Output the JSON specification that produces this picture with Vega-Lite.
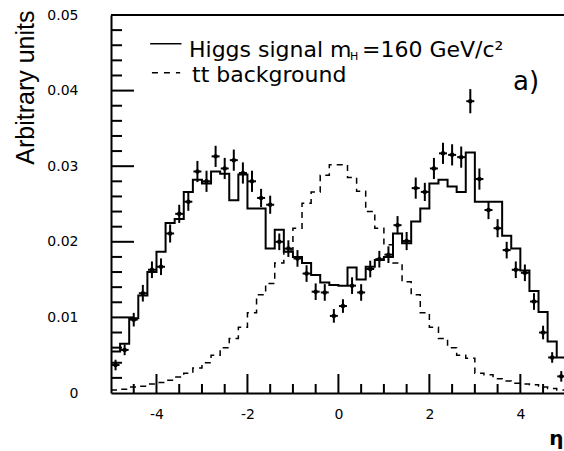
{
  "$schema": "https://vega.github.io/schema/vega-lite/v6.json",
  "width": 453,
  "height": 378,
  "autosize": {"type": "none"},
  "padding": {"left": 111, "top": 15, "right": 0, "bottom": 58},
  "background": "white",
  "config": {
    "view": {"stroke": null},
    "axis": {"grid": false, "domainColor": "#000", "labelColor": "#000", "titleColor": "#000", "labelFont": "DejaVu Sans", "labelFontSize": 14, "domainWidth": 2, "labelFlush": false, "labelOverlap": false, "labelBound": false}
  },
  "datasets": {
    "hist": [
      {"lo": -5.0, "sig": 0.0055, "bkg": 0.0004},
      {"lo": -4.8, "sig": 0.0065, "bkg": 0.0005},
      {"lo": -4.6, "sig": 0.0099, "bkg": 0.0008},
      {"lo": -4.4, "sig": 0.0129, "bkg": 0.0009},
      {"lo": -4.2, "sig": 0.0160, "bkg": 0.0012},
      {"lo": -4.0, "sig": 0.0187, "bkg": 0.0014},
      {"lo": -3.8, "sig": 0.0225, "bkg": 0.0017},
      {"lo": -3.6, "sig": 0.0230, "bkg": 0.0021},
      {"lo": -3.4, "sig": 0.0266, "bkg": 0.0026},
      {"lo": -3.2, "sig": 0.0282, "bkg": 0.0033},
      {"lo": -3.0, "sig": 0.0277, "bkg": 0.0040},
      {"lo": -2.8, "sig": 0.0293, "bkg": 0.0050},
      {"lo": -2.6, "sig": 0.0290, "bkg": 0.0060},
      {"lo": -2.4, "sig": 0.0255, "bkg": 0.0072},
      {"lo": -2.2, "sig": 0.0289, "bkg": 0.0087},
      {"lo": -2.0, "sig": 0.0244, "bkg": 0.0106},
      {"lo": -1.8, "sig": 0.0244, "bkg": 0.0130},
      {"lo": -1.6, "sig": 0.0191, "bkg": 0.0145},
      {"lo": -1.4, "sig": 0.0216, "bkg": 0.0172},
      {"lo": -1.2, "sig": 0.0187, "bkg": 0.0189},
      {"lo": -1.0, "sig": 0.0180, "bkg": 0.0218},
      {"lo": -0.8, "sig": 0.0172, "bkg": 0.0251},
      {"lo": -0.6, "sig": 0.0156, "bkg": 0.0266},
      {"lo": -0.4, "sig": 0.0146, "bkg": 0.0288},
      {"lo": -0.2, "sig": 0.0143, "bkg": 0.0302},
      {"lo": 0.0, "sig": 0.0142, "bkg": 0.0302},
      {"lo": 0.2, "sig": 0.0166, "bkg": 0.0285},
      {"lo": 0.4, "sig": 0.0150, "bkg": 0.0267},
      {"lo": 0.6, "sig": 0.0167, "bkg": 0.0240},
      {"lo": 0.8, "sig": 0.0176, "bkg": 0.0218},
      {"lo": 1.0, "sig": 0.0180, "bkg": 0.0196},
      {"lo": 1.2, "sig": 0.0211, "bkg": 0.0172},
      {"lo": 1.4, "sig": 0.0198, "bkg": 0.0147},
      {"lo": 1.6, "sig": 0.0227, "bkg": 0.0130},
      {"lo": 1.8, "sig": 0.0244, "bkg": 0.0106},
      {"lo": 2.0, "sig": 0.0277, "bkg": 0.0087},
      {"lo": 2.2, "sig": 0.0282, "bkg": 0.0072},
      {"lo": 2.4, "sig": 0.0273, "bkg": 0.0060},
      {"lo": 2.6, "sig": 0.0266, "bkg": 0.0050},
      {"lo": 2.8, "sig": 0.0318, "bkg": 0.0046},
      {"lo": 3.0, "sig": 0.0253, "bkg": 0.0026},
      {"lo": 3.2, "sig": 0.0253, "bkg": 0.0024},
      {"lo": 3.4, "sig": 0.0253, "bkg": 0.0019},
      {"lo": 3.6, "sig": 0.0208, "bkg": 0.0016},
      {"lo": 3.8, "sig": 0.0191, "bkg": 0.0013},
      {"lo": 4.0, "sig": 0.0162, "bkg": 0.0012},
      {"lo": 4.2, "sig": 0.0135, "bkg": 0.0011},
      {"lo": 4.4, "sig": 0.0107, "bkg": 0.0008},
      {"lo": 4.6, "sig": 0.0068, "bkg": 0.0006},
      {"lo": 4.8, "sig": 0.0047, "bkg": 0.0004},
      {"lo": 5.0, "sig": 0.0047, "bkg": 0.0004}
    ],
    "pts": [
      {"eta": -4.9, "val": 0.0037, "lo": 0.0030, "hi": 0.0044},
      {"eta": -4.7, "val": 0.0057, "lo": 0.0050, "hi": 0.0064},
      {"eta": -4.5, "val": 0.0097, "lo": 0.0088, "hi": 0.0106},
      {"eta": -4.3, "val": 0.0132, "lo": 0.0121, "hi": 0.0143},
      {"eta": -4.1, "val": 0.0163, "lo": 0.0152, "hi": 0.0174},
      {"eta": -3.9, "val": 0.0167, "lo": 0.0156, "hi": 0.0178},
      {"eta": -3.7, "val": 0.0211, "lo": 0.0199, "hi": 0.0223},
      {"eta": -3.5, "val": 0.0237, "lo": 0.0225, "hi": 0.0249},
      {"eta": -3.3, "val": 0.0253, "lo": 0.0241, "hi": 0.0265},
      {"eta": -3.1, "val": 0.0293, "lo": 0.0279, "hi": 0.0307},
      {"eta": -2.9, "val": 0.0280, "lo": 0.0266, "hi": 0.0294},
      {"eta": -2.7, "val": 0.0313, "lo": 0.0299, "hi": 0.0327},
      {"eta": -2.5, "val": 0.0297, "lo": 0.0283, "hi": 0.0311},
      {"eta": -2.3, "val": 0.0308, "lo": 0.0294, "hi": 0.0322},
      {"eta": -2.1, "val": 0.0291, "lo": 0.0277, "hi": 0.0305},
      {"eta": -1.9, "val": 0.0280, "lo": 0.0266, "hi": 0.0294},
      {"eta": -1.7, "val": 0.0258, "lo": 0.0246, "hi": 0.0270},
      {"eta": -1.5, "val": 0.0249, "lo": 0.0237, "hi": 0.0261},
      {"eta": -1.3, "val": 0.0200, "lo": 0.0189, "hi": 0.0211},
      {"eta": -1.1, "val": 0.0191, "lo": 0.0180, "hi": 0.0202},
      {"eta": -0.9, "val": 0.0178, "lo": 0.0167, "hi": 0.0189},
      {"eta": -0.7, "val": 0.0158, "lo": 0.0147, "hi": 0.0169},
      {"eta": -0.5, "val": 0.0134, "lo": 0.0123, "hi": 0.0145},
      {"eta": -0.3, "val": 0.0133, "lo": 0.0122, "hi": 0.0144},
      {"eta": -0.1, "val": 0.0102, "lo": 0.0093, "hi": 0.0111},
      {"eta": 0.1, "val": 0.0115, "lo": 0.0106, "hi": 0.0124},
      {"eta": 0.3, "val": 0.0142, "lo": 0.0131, "hi": 0.0153},
      {"eta": 0.5, "val": 0.0133, "lo": 0.0122, "hi": 0.0144},
      {"eta": 0.7, "val": 0.0164, "lo": 0.0153, "hi": 0.0175},
      {"eta": 0.9, "val": 0.0177, "lo": 0.0166, "hi": 0.0188},
      {"eta": 1.1, "val": 0.0183, "lo": 0.0172, "hi": 0.0194},
      {"eta": 1.3, "val": 0.0222, "lo": 0.0210, "hi": 0.0234},
      {"eta": 1.5, "val": 0.0201, "lo": 0.0189, "hi": 0.0213},
      {"eta": 1.7, "val": 0.0271, "lo": 0.0257, "hi": 0.0285},
      {"eta": 1.9, "val": 0.0266, "lo": 0.0254, "hi": 0.0278},
      {"eta": 2.1, "val": 0.0297, "lo": 0.0283, "hi": 0.0311},
      {"eta": 2.3, "val": 0.0317, "lo": 0.0303, "hi": 0.0331},
      {"eta": 2.5, "val": 0.0315, "lo": 0.0301, "hi": 0.0329},
      {"eta": 2.7, "val": 0.0312, "lo": 0.0298, "hi": 0.0326},
      {"eta": 2.9, "val": 0.0386, "lo": 0.0370, "hi": 0.0402},
      {"eta": 3.1, "val": 0.0283, "lo": 0.0269, "hi": 0.0297},
      {"eta": 3.3, "val": 0.0242, "lo": 0.0230, "hi": 0.0254},
      {"eta": 3.5, "val": 0.0218, "lo": 0.0206, "hi": 0.0230},
      {"eta": 3.7, "val": 0.0189, "lo": 0.0178, "hi": 0.0200},
      {"eta": 3.9, "val": 0.0163, "lo": 0.0152, "hi": 0.0174},
      {"eta": 4.1, "val": 0.0159, "lo": 0.0148, "hi": 0.0170},
      {"eta": 4.3, "val": 0.0121, "lo": 0.0110, "hi": 0.0132},
      {"eta": 4.5, "val": 0.0080, "lo": 0.0071, "hi": 0.0089},
      {"eta": 4.7, "val": 0.0047, "lo": 0.0040, "hi": 0.0054},
      {"eta": 4.9, "val": 0.0022, "lo": 0.0015, "hi": 0.0029}
    ],
    "xticks": [
      {"v": -4.5, "a": 0, "b": 0.00119}, {"v": -4, "a": 0, "b": 0.00251}, {"v": -3.5, "a": 0, "b": 0.00119},
      {"v": -3, "a": 0, "b": 0.00119}, {"v": -2.5, "a": 0, "b": 0.00119}, {"v": -2, "a": 0, "b": 0.00251},
      {"v": -1.5, "a": 0, "b": 0.00119}, {"v": -1, "a": 0, "b": 0.00119}, {"v": -0.5, "a": 0, "b": 0.00119},
      {"v": 0, "a": 0, "b": 0.00251}, {"v": 0.5, "a": 0, "b": 0.00119}, {"v": 1, "a": 0, "b": 0.00119},
      {"v": 1.5, "a": 0, "b": 0.00119}, {"v": 2, "a": 0, "b": 0.00251}, {"v": 2.5, "a": 0, "b": 0.00119},
      {"v": 3, "a": 0, "b": 0.00119}, {"v": 3.5, "a": 0, "b": 0.00119}, {"v": 4, "a": 0, "b": 0.00251},
      {"v": 4.5, "a": 0, "b": 0.00119}
    ],
    "yticks": [
      {"v": 0.002, "a": -5, "b": -4.758}, {"v": 0.004, "a": -5, "b": -4.758}, {"v": 0.006, "a": -5, "b": -4.758}, {"v": 0.008, "a": -5, "b": -4.758},
      {"v": 0.01, "a": -5, "b": -4.494},
      {"v": 0.012, "a": -5, "b": -4.758}, {"v": 0.014, "a": -5, "b": -4.758}, {"v": 0.016, "a": -5, "b": -4.758}, {"v": 0.018, "a": -5, "b": -4.758},
      {"v": 0.02, "a": -5, "b": -4.494},
      {"v": 0.022, "a": -5, "b": -4.758}, {"v": 0.024, "a": -5, "b": -4.758}, {"v": 0.026, "a": -5, "b": -4.758}, {"v": 0.028, "a": -5, "b": -4.758},
      {"v": 0.03, "a": -5, "b": -4.494},
      {"v": 0.032, "a": -5, "b": -4.758}, {"v": 0.034, "a": -5, "b": -4.758}, {"v": 0.036, "a": -5, "b": -4.758}, {"v": 0.038, "a": -5, "b": -4.758},
      {"v": 0.04, "a": -5, "b": -4.494},
      {"v": 0.042, "a": -5, "b": -4.758}, {"v": 0.044, "a": -5, "b": -4.758}, {"v": 0.046, "a": -5, "b": -4.758}, {"v": 0.048, "a": -5, "b": -4.758}
    ]
  },
  "layer": [
    {
      "data": {"name": "hist"},
      "mark": {"type": "line", "interpolate": "step-after", "strokeDash": [6, 5], "strokeWidth": 1.5, "color": "#000", "clip": true},
      "encoding": {
        "x": {"field": "lo", "type": "quantitative", "scale": {"domain": [-5, 4.96], "nice": false, "zero": false},
          "axis": {"orient": "bottom", "values": [-4, -2, 0, 2, 4], "ticks": false, "grid": false,
            "labelExpr": "'' + datum.value", "labelPadding": 14, "labelOverlap": false, "domain": true,
            "title": "η", "titleFont": "DejaVu Sans", "titleFontSize": 20, "titleFontWeight": "bold", "titleX": 452, "titleY": 51, "titleAlign": "right", "titleBaseline": "alphabetic"}},
        "y": {"field": "bkg", "type": "quantitative", "scale": {"domain": [0, 0.05], "nice": false, "zero": false},
          "axis": {"orient": "left", "values": [0, 0.01, 0.02, 0.03, 0.04, 0.05], "ticks": false, "grid": false,
            "labelExpr": "'' + datum.value", "labelPadding": 33, "labelOverlap": false, "domain": true,
            "title": "Arbitrary units", "titleFont": "Liberation Sans", "titleFontSize": 25, "titleFontWeight": "normal", "titleX": -78, "titleY": -5, "titleAngle": -90, "titleAlign": "right", "titleBaseline": "alphabetic"}}
      }
    },
    {
      "data": {"name": "hist"},
      "mark": {"type": "line", "interpolate": "step-after", "strokeWidth": 2, "color": "#000", "clip": true},
      "encoding": {
        "x": {"field": "lo", "type": "quantitative", "scale": {"domain": [-5, 4.96], "nice": false, "zero": false}},
        "y": {"field": "sig", "type": "quantitative", "scale": {"domain": [0, 0.05], "nice": false, "zero": false}}
      }
    },
    {
      "data": {"values": [{"x": -5, "x2": 4.96, "y": 0.05}]},
      "mark": {"type": "rule", "strokeWidth": 2, "color": "#000"},
      "encoding": {
        "x": {"field": "x", "type": "quantitative", "scale": {"domain": [-5, 4.96], "nice": false, "zero": false}},
        "x2": {"field": "x2"},
        "y": {"field": "y", "type": "quantitative", "scale": {"domain": [0, 0.05], "nice": false, "zero": false}}
      }
    },
    {
      "data": {"name": "xticks"},
      "mark": {"type": "rule", "strokeWidth": 2, "color": "#000"},
      "encoding": {
        "x": {"field": "v", "type": "quantitative", "scale": {"domain": [-5, 4.96], "nice": false, "zero": false}},
        "y": {"field": "a", "type": "quantitative", "scale": {"domain": [0, 0.05], "nice": false, "zero": false}},
        "y2": {"field": "b"}
      }
    },
    {
      "data": {"name": "yticks"},
      "mark": {"type": "rule", "strokeWidth": 2, "color": "#000"},
      "encoding": {
        "x": {"field": "a", "type": "quantitative", "scale": {"domain": [-5, 4.96], "nice": false, "zero": false}},
        "x2": {"field": "b"},
        "y": {"field": "v", "type": "quantitative", "scale": {"domain": [0, 0.05], "nice": false, "zero": false}}
      }
    },
    {
      "data": {"name": "pts"},
      "mark": {"type": "rule", "strokeWidth": 2, "color": "#000"},
      "encoding": {
        "x": {"field": "eta", "type": "quantitative", "scale": {"domain": [-5, 4.96], "nice": false, "zero": false}},
        "y": {"field": "lo", "type": "quantitative", "scale": {"domain": [0, 0.05], "nice": false, "zero": false}},
        "y2": {"field": "hi"}
      }
    },
    {
      "data": {"name": "pts"},
      "mark": {"type": "tick", "orient": "horizontal", "size": 8, "thickness": 2, "color": "#000", "opacity": 1},
      "encoding": {
        "x": {"field": "eta", "type": "quantitative", "scale": {"domain": [-5, 4.96], "nice": false, "zero": false}},
        "y": {"field": "val", "type": "quantitative", "scale": {"domain": [0, 0.05], "nice": false, "zero": false}}
      }
    },
    {
      "data": {"name": "pts"},
      "mark": {"type": "point", "shape": "circle", "filled": true, "size": 20, "color": "#000", "opacity": 1},
      "encoding": {
        "x": {"field": "eta", "type": "quantitative", "scale": {"domain": [-5, 4.96], "nice": false, "zero": false}},
        "y": {"field": "val", "type": "quantitative", "scale": {"domain": [0, 0.05], "nice": false, "zero": false}}
      }
    },
    {
      "data": {"values": [{"x": -4.14, "x2": -3.45, "y": 0.0462}]},
      "mark": {"type": "rule", "strokeWidth": 1.5, "color": "#000"},
      "encoding": {
        "x": {"field": "x", "type": "quantitative", "scale": {"domain": [-5, 4.96], "nice": false, "zero": false}},
        "x2": {"field": "x2"},
        "y": {"field": "y", "type": "quantitative", "scale": {"domain": [0, 0.05], "nice": false, "zero": false}}
      }
    },
    {
      "data": {"values": [{"x": -4.10, "x2": -3.48, "y": 0.04237}]},
      "mark": {"type": "rule", "strokeWidth": 1.5, "strokeDash": [6, 6], "color": "#000"},
      "encoding": {
        "x": {"field": "x", "type": "quantitative", "scale": {"domain": [-5, 4.96], "nice": false, "zero": false}},
        "x2": {"field": "x2"},
        "y": {"field": "y", "type": "quantitative", "scale": {"domain": [0, 0.05], "nice": false, "zero": false}}
      }
    },
    {
      "data": {"values": [
        {"x": -3.285, "y": 0.04451, "t": "Higgs signal m"},
        {"x": 0.52, "y": 0.04451, "t": "=160 GeV/c²"},
        {"x": -3.219, "y": 0.04118, "t": "tt background"}
      ]},
      "mark": {"type": "text", "font": "DejaVu Sans", "fontSize": 22, "align": "left", "baseline": "alphabetic", "color": "#000"},
      "encoding": {
        "x": {"field": "x", "type": "quantitative", "scale": {"domain": [-5, 4.96], "nice": false, "zero": false}},
        "y": {"field": "y", "type": "quantitative", "scale": {"domain": [0, 0.05], "nice": false, "zero": false}},
        "text": {"field": "t"}
      }
    },
    {
      "data": {"values": [{"x": 0.255, "y": 0.04405, "t": "H"}]},
      "mark": {"type": "text", "font": "DejaVu Sans", "fontSize": 11, "align": "left", "baseline": "alphabetic", "color": "#000"},
      "encoding": {
        "x": {"field": "x", "type": "quantitative", "scale": {"domain": [-5, 4.96], "nice": false, "zero": false}},
        "y": {"field": "y", "type": "quantitative", "scale": {"domain": [0, 0.05], "nice": false, "zero": false}},
        "text": {"field": "t"}
      }
    },
    {
      "data": {"values": [{"x": 3.839, "y": 0.04008, "t": "a)"}]},
      "mark": {"type": "text", "font": "DejaVu Sans", "fontSize": 26, "align": "left", "baseline": "alphabetic", "color": "#000"},
      "encoding": {
        "x": {"field": "x", "type": "quantitative", "scale": {"domain": [-5, 4.96], "nice": false, "zero": false}},
        "y": {"field": "y", "type": "quantitative", "scale": {"domain": [0, 0.05], "nice": false, "zero": false}},
        "text": {"field": "t"}
      }
    }
  ]
}
